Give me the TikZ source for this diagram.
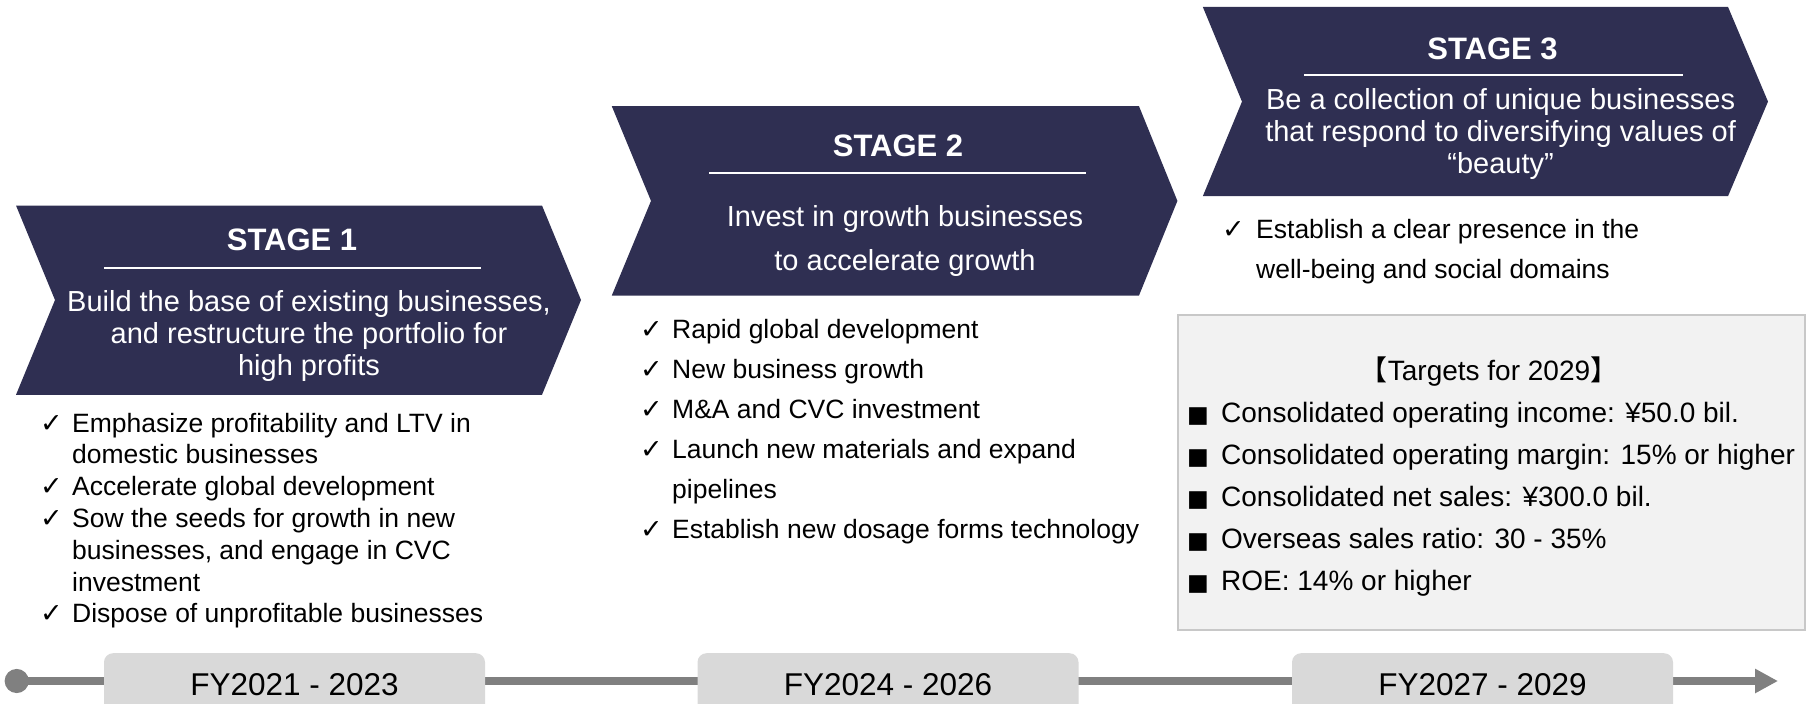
\documentclass[tikz,border=0pt]{standalone}
\usepackage{fontspec}
\setmainfont{Liberation Sans}
\newfontfamily\symfont{DejaVu Sans}
\newfontfamily\cjkfont{Noto Sans CJK JP}
\usetikzlibrary{arrows.meta,positioning}
\definecolor{nvy}{RGB}{47,47,82}
\definecolor{fyg}{RGB}{217,217,217}
\definecolor{tlg}{RGB}{128,128,128}
\definecolor{bxf}{RGB}{242,242,242}
\definecolor{bxl}{RGB}{200,200,200}
\newcommand{\chk}[1]{\makebox[#1][l]{\symfont\fontsize{27}{27}\selectfont ✓}}
\newcommand{\sqb}{\makebox[34pt][l]{\symfont\fontsize{23}{23}\selectfont ■}}

\begin{document}
\begin{tikzpicture}[x=1pt,y=-1pt,
    chev/.style={fill=nvy},
    ttl/.style={text=white,inner sep=0pt,anchor=base,font=\fontsize{31}{36}\selectfont\bfseries},
    hdl/.style={text=white,inner sep=0pt,anchor=base,font=\fontsize{29}{#1}\selectfont},
    lst/.style={inner sep=0pt,anchor=base west,font=\fontsize{26.5}{#1}\selectfont},
    bar/.style={white,line width=1.6pt},
    fy/.style={fill=fyg,rounded corners=9pt,minimum width=381pt,minimum height=62pt,anchor=north,inner sep=0pt,font=\fontsize{31.5}{36}\selectfont},
    tl/.style={tlg,line width=7.5pt,{Circle[length=24pt]}-{Triangle[length=23pt,width=23pt]}},
]
\useasboundingbox (0,0) rectangle (1810,704);

% Chevrons
\fill[chev] (16,205.5) -- (542,205.5) -- (581,300) -- (542,394.8) -- (16,394.8) -- (55,300) -- cycle;
\fill[chev] (611.8,106.2) -- (1139,106.2) -- (1177.4,200.9) -- (1139,295.5) -- (611.8,295.5) -- (651,200.9) -- cycle;
\fill[chev] (1202.8,6.9) -- (1728,6.9) -- (1768,101.6) -- (1728,196.2) -- (1202.8,196.2) -- (1242,101.6) -- cycle;

% Stage titles
\node[ttl] (t1) at (292,250) {STAGE 1};
\node[ttl] (t2) at (898,156.5) {STAGE 2};
\node[ttl] (t3) at (1492.5,59.5) {STAGE 3};
\draw[bar] (104,268) -- (481,268);
\draw[bar] (709,173) -- (1086,173);
\draw[bar] (1304,75) -- (1683,75);

% Stage aims
\node[hdl=32] (a1) at (309,311) {\begin{tabular}[t]{@{}c@{}}Build the base of existing businesses,\\and restructure the portfolio for\\high profits\end{tabular}};
\node[hdl=44] (a2) at (905,226) {\begin{tabular}[t]{@{}c@{}}Invest in growth businesses\\to accelerate growth\end{tabular}};
\node[hdl=32] (a3) at (1500.6,109) {\begin{tabular}[t]{@{}c@{}}Be a collection of unique businesses\\that respond to diversifying values of\\“beauty”\end{tabular}};

% Check lists
\node[lst=31.8] (l1) at (40,432) {\begin{tabular}[t]{@{}l@{}l@{}}
  \chk{32pt} & Emphasize profitability and LTV in\\
  & domestic businesses\\
  \chk{32pt} & Accelerate global development\\
  \chk{32pt} & Sow the seeds for growth in new\\
  & businesses, and engage in CVC\\
  & investment\\
  \chk{32pt} & Dispose of unprofitable businesses
\end{tabular}};
\node[lst=40] (l2) at (640,338.5) {\begin{tabular}[t]{@{}l@{}l@{}}
  \chk{32pt} & Rapid global development\\
  \chk{32pt} & New business growth\\
  \chk{32pt} & M\&A and CVC investment\\
  \chk{32pt} & Launch new materials and expand\\
  & pipelines\\
  \chk{32pt} & Establish new dosage forms technology
\end{tabular}};
\node[lst=40.4] (l3) at (1222,238) {\begin{tabular}[t]{@{}l@{}l@{}}
  \chk{34pt} & Establish a clear presence in the\\
  & well-being and social domains
\end{tabular}};

% Targets
\node[draw=bxl,fill=bxf,line width=1.5pt,minimum width=627pt,minimum height=315pt,anchor=north west,inner sep=0pt] (tgt) at (1177,314) {};
\node[inner sep=0pt,anchor=base,font=\fontsize{28}{42}\selectfont] (tgth) at (1489,380) {{\cjkfont 【}Targets for 2029{\cjkfont 】}};
\node[inner sep=0pt,anchor=base west,font=\fontsize{28}{42}\selectfont] (tgtl) at (1187,422) {\begin{tabular}[t]{@{}l@{}l@{}}
  \sqb & Consolidated operating income: ¥50.0 bil.\\
  \sqb & Consolidated operating margin: 15\% or higher\\
  \sqb & Consolidated net sales: ¥300.0 bil.\\
  \sqb & Overseas sales ratio: 30 - 35\%\\
  \sqb & ROE: 14\% or higher
\end{tabular}};

% Timeline
\coordinate (tl0) at (4.7,681);
\coordinate (tl1) at (1778,681);
\draw[tl] (tl0) -- (tl1);
\node[fy] (fy1) at (294.5,653) {FY2021 - 2023};
\node[fy] (fy2) at (888,653) {FY2024 - 2026};
\node[fy] (fy3) at (1482.5,653) {FY2027 - 2029};
\end{tikzpicture}
\end{document}
